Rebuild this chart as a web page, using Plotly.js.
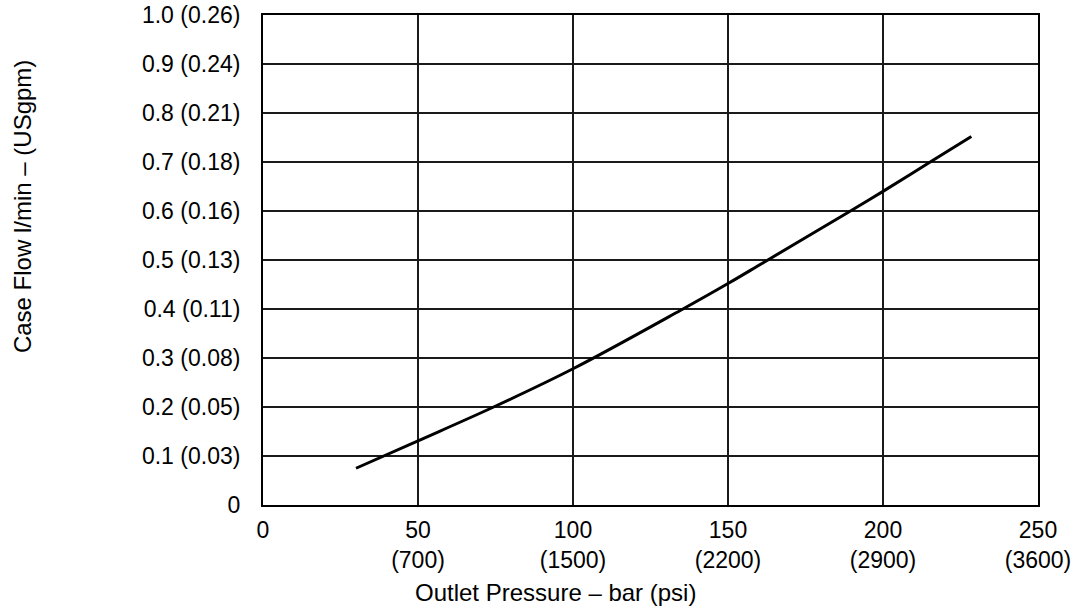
<!DOCTYPE html>
<html>
<head>
<meta charset="utf-8">
<script src="https://cdn.plot.ly/plotly-3.0.1.min.js"></script>
<style>
  html, body { margin: 0; padding: 0; background: #ffffff; }
  #chart { width: 1087px; height: 611px; }
</style>
</head>
<body>
<div id="chart"></div>
<script>
// Outlet pressure (bar) and case flow (l/min)
const pressureBar = [30, 50, 74.4, 100, 134.6, 150, 161.5, 189.5, 200, 216, 228.5];
const caseFlowLpm = [0.075, 0.131, 0.2, 0.278, 0.397, 0.452, 0.495, 0.6, 0.64, 0.703, 0.752];

// Axis ticks
const xTickVals = [0, 50, 100, 150, 200, 250];
const xTickText = ["0", "50<br>(700)", "100<br>(1500)", "150<br>(2200)", "200<br>(2900)", "250<br>(3600)"];
const yTickVals = [0, 0.1, 0.2, 0.3, 0.4, 0.5, 0.6, 0.7, 0.8, 0.9, 1.0];
const yTickText = ["0", "0.1 (0.03)", "0.2 (0.05)", "0.3 (0.08)", "0.4 (0.11)", "0.5 (0.13)",
                   "0.6 (0.16)", "0.7 (0.18)", "0.8 (0.21)", "0.9 (0.24)", "1.0 (0.26)"];

// Titles
const xTitle = "Outlet Pressure – bar (psi)";
const yTitle = "Case Flow l/min – (USgpm)";

const FONT = "Liberation Sans, Arial, Helvetica, sans-serif";

const trace = {
  x: pressureBar,
  y: caseFlowLpm,
  type: "scatter",
  mode: "lines",
  line: { color: "#000000", width: 3, shape: "spline", smoothing: 1 },
  hoverinfo: "x+y",
  showlegend: false,
  cliponaxis: true
};

const layout = {
  width: 1087,
  height: 611,
  margin: { l: 263, r: 49, t: 15, b: 106, pad: 0 },
  paper_bgcolor: "#ffffff",
  plot_bgcolor: "#ffffff",
  font: { family: FONT, color: "#000000", size: 23 },
  showlegend: false,
  xaxis: {
    range: [0, 250],
    tickmode: "array",
    tickvals: xTickVals,
    ticktext: xTickText,
    ticks: "",
    ticklabelstandoff: 3,
    tickfont: { family: FONT, size: 23, color: "#000000" },
    showgrid: true,
    gridcolor: "#1a1a1a",
    gridwidth: 1.5,
    zeroline: false,
    showline: true,
    linecolor: "#000000",
    linewidth: 2,
    mirror: true,
    fixedrange: true
  },
  yaxis: {
    range: [0, 1.0],
    tickmode: "array",
    tickvals: yTickVals,
    ticktext: yTickText,
    ticks: "",
    ticklabelstandoff: 16,
    tickfont: { family: FONT, size: 23, color: "#000000" },
    showgrid: true,
    gridcolor: "#1a1a1a",
    gridwidth: 1.5,
    zeroline: false,
    showline: true,
    linecolor: "#000000",
    linewidth: 2,
    mirror: true,
    fixedrange: true
  },
  annotations: [
    {
      text: xTitle,
      xref: "paper", yref: "paper",
      x: 0.378, y: -0.1795,
      xanchor: "center", yanchor: "middle",
      showarrow: false,
      font: { family: FONT, size: 24, color: "#000000" }
    },
    {
      text: yTitle,
      xref: "paper", yref: "paper",
      x: -0.311, y: 0.61,
      xanchor: "center", yanchor: "middle",
      textangle: -90,
      showarrow: false,
      font: { family: FONT, size: 24, color: "#000000" }
    }
  ]
};

Plotly.newPlot("chart", [trace], layout, { displayModeBar: false, staticPlot: true });
</script>
</body>
</html>
